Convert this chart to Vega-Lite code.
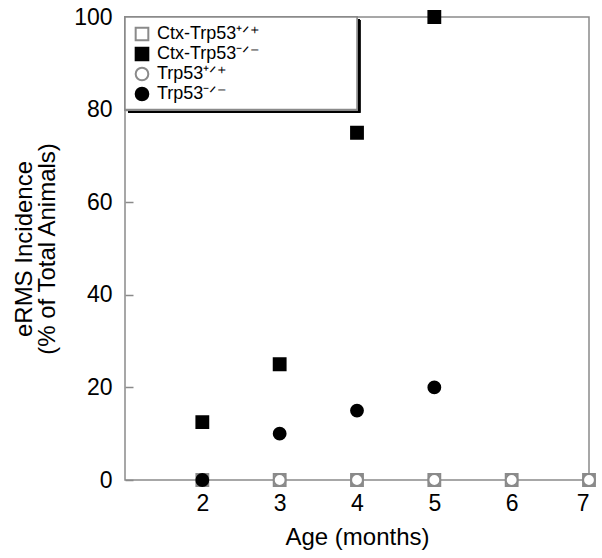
{
  "$schema": "https://vega.github.io/schema/vega-lite/v6.json",
  "width": 464,
  "height": 463,
  "autosize": {"type": "none"},
  "padding": {"left": 125, "top": 17, "right": 13, "bottom": 78},
  "background": "white",
  "config": {
    "font": "Liberation Sans",
    "view": {"stroke": "#8a8a8a", "strokeWidth": 1.5},
    "axis": {"labelColor": "black", "titleColor": "black", "labelFont": "Liberation Sans", "titleFont": "Liberation Sans", "grid": false, "domainColor": "#8a8a8a", "domainWidth": 1.5, "tickColor": "#8a8a8a", "tickWidth": 1.5, "titleFontWeight": "normal"}
  },
  "data": {
    "values": [
      {"age": 2, "pct": 0, "group": "Ctx-Trp53⁺ᐟ⁺"},
      {"age": 3, "pct": 0, "group": "Ctx-Trp53⁺ᐟ⁺"},
      {"age": 4, "pct": 0, "group": "Ctx-Trp53⁺ᐟ⁺"},
      {"age": 5, "pct": 0, "group": "Ctx-Trp53⁺ᐟ⁺"},
      {"age": 6, "pct": 0, "group": "Ctx-Trp53⁺ᐟ⁺"},
      {"age": 7, "pct": 0, "group": "Ctx-Trp53⁺ᐟ⁺"},
      {"age": 2, "pct": 0, "group": "Trp53⁺ᐟ⁺"},
      {"age": 3, "pct": 0, "group": "Trp53⁺ᐟ⁺"},
      {"age": 4, "pct": 0, "group": "Trp53⁺ᐟ⁺"},
      {"age": 5, "pct": 0, "group": "Trp53⁺ᐟ⁺"},
      {"age": 6, "pct": 0, "group": "Trp53⁺ᐟ⁺"},
      {"age": 7, "pct": 0, "group": "Trp53⁺ᐟ⁺"},
      {"age": 2, "pct": 12.5, "group": "Ctx-Trp53⁻ᐟ⁻"},
      {"age": 3, "pct": 25, "group": "Ctx-Trp53⁻ᐟ⁻"},
      {"age": 4, "pct": 75, "group": "Ctx-Trp53⁻ᐟ⁻"},
      {"age": 5, "pct": 100, "group": "Ctx-Trp53⁻ᐟ⁻"},
      {"age": 2, "pct": 0, "group": "Trp53⁻ᐟ⁻"},
      {"age": 3, "pct": 10, "group": "Trp53⁻ᐟ⁻"},
      {"age": 4, "pct": 15, "group": "Trp53⁻ᐟ⁻"},
      {"age": 5, "pct": 20, "group": "Trp53⁻ᐟ⁻"}
    ]
  },
  "layer": [
    {
      "mark": {"type": "rect", "color": "black"},
      "encoding": {
        "x": {"datum": 1.045, "type": "quantitative", "scale": {"domain": [1, 7]}},
        "x2": {"datum": 4.04},
        "y": {"datum": 99.4, "type": "quantitative", "scale": {"domain": [0, 100]}},
        "y2": {"datum": 79.3}
      }
    },
    {
      "mark": {"type": "rect", "fill": "white", "stroke": "#8a8a8a", "strokeWidth": 1.5},
      "encoding": {
        "x": {"datum": 1, "type": "quantitative"},
        "x2": {"datum": 4},
        "y": {"datum": 100, "type": "quantitative"},
        "y2": {"datum": 80}
      }
    },
    {
      "mark": {"type": "point", "strokeWidth": 2, "size": 140, "opacity": 1},
      "encoding": {
        "x": {
          "field": "age", "type": "quantitative",
          "scale": {"domain": [1, 7], "nice": false, "zero": false},
          "axis": {"values": [2, 3, 4, 5, 6, 7], "format": "d", "ticks": false, "domain": false, "labelFontSize": 23, "labelPadding": 12, "title": "Age (months)", "titleFontSize": 24, "titlePadding": 10}
        },
        "y": {
          "field": "pct", "type": "quantitative",
          "scale": {"domain": [0, 100], "nice": false},
          "axis": {"values": [0, 20, 40, 60, 80, 100], "format": "d", "tickSize": -8, "domain": false, "labelFontSize": 23, "labelPadding": 21, "title": ["eRMS Incidence", "(% of Total Animals)"], "titleFontSize": 24, "titleLineHeight": 23, "titlePadding": 14}
        },
        "shape": {"field": "group", "type": "nominal", "scale": {"domain": ["Ctx-Trp53⁺ᐟ⁺", "Ctx-Trp53⁻ᐟ⁻", "Trp53⁺ᐟ⁺", "Trp53⁻ᐟ⁻"], "range": ["square", "square", "circle", "circle"]}, "legend": {"title": null}},
        "fill": {"field": "group", "type": "nominal", "scale": {"domain": ["Ctx-Trp53⁺ᐟ⁺", "Ctx-Trp53⁻ᐟ⁻", "Trp53⁺ᐟ⁺", "Trp53⁻ᐟ⁻"], "range": ["white", "black", "white", "black"]}, "legend": {"title": null}},
        "stroke": {"field": "group", "type": "nominal", "scale": {"domain": ["Ctx-Trp53⁺ᐟ⁺", "Ctx-Trp53⁻ᐟ⁻", "Trp53⁺ᐟ⁺", "Trp53⁻ᐟ⁻"], "range": ["#8a8a8a", "black", "#8a8a8a", "black"]}, "legend": {"title": null, "orient": "none", "legendX": 8, "legendY": 8, "padding": 0, "labelFontSize": 18, "labelFont": "Liberation Sans", "labelColor": "black", "symbolSize": 160, "symbolStrokeWidth": 2, "rowPadding": -2, "labelOffset": 6, "strokeColor": null, "fillColor": null}}
      }
    }
  ]
}
